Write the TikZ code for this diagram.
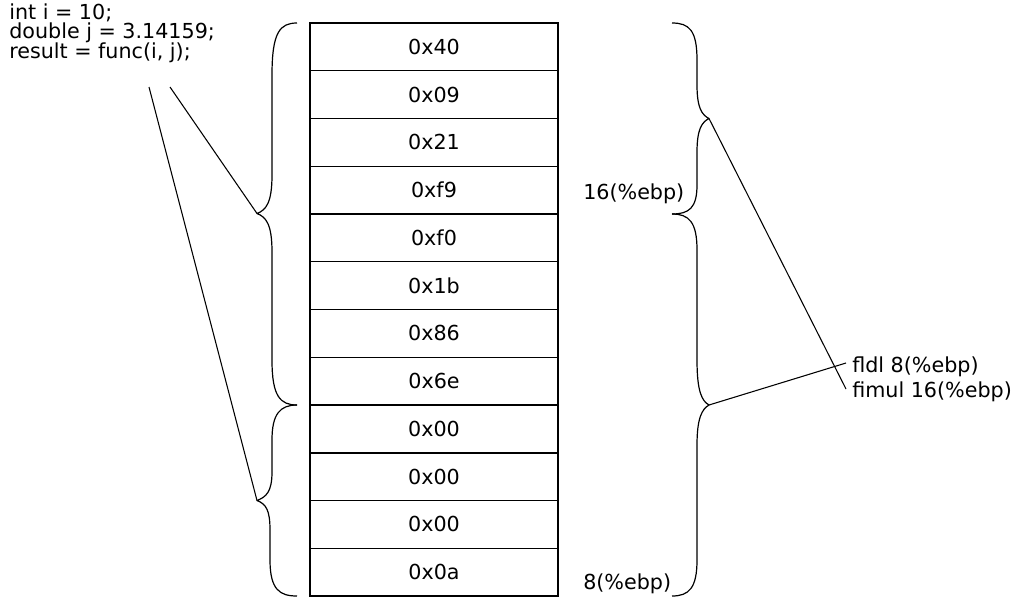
\documentclass[tikz,border=0pt]{standalone}
\usepackage{fontspec}
\setmainfont{DejaVu Sans}
\begin{document}
\begin{tikzpicture}[x=0.75pt,y=-0.75pt,
  cell/.style={draw,line width=1.1pt,minimum width=186pt,minimum height=35.8pt,inner sep=0pt,font=\fontsize{15.5pt}{18pt}\selectfont},
  txt/.style={inner sep=0pt,anchor=base west,font=\fontsize{15.5pt}{18pt}\selectfont},
  brace/.style={line width=0.9pt,line join=round},
  link/.style={line width=0.8pt}]
\useasboundingbox (0,0) rectangle (1013,597);
% stack cells
\foreach \t [count=\k] in {0x40,0x09,0x21,0xf9,0xf0,0x1b,0x86,0x6e,0x00,0x00,0x00,0x0a}
  \node[cell] (c\k) at (434,{23+47.75*(\k-0.5)}) {\t};
% code
\node[txt] (code1) at (9,19) {int i = 10;};
\node[txt] (code2) at (9,38.5) {double j = 3.14159;};
\node[txt] (code3) at (9,58) {result = func(i, j);};
% right labels
\node[txt] (l16) at (583,199) {16(\%ebp)};
\node[txt] (l8) at (583,589) {8(\%ebp)};
\node[txt] (fldl) at (852,372) {fldl 8(\%ebp)};
\node[txt] (fimul) at (852,397) {fimul 16(\%ebp)};
% cusp coordinates
\coordinate (lb1) at (257,213.5);
\coordinate (lb2) at (257,500.5);
\coordinate (rb1) at (709,118.5);
\coordinate (rb2) at (709,405);
\coordinate (ci) at (149,87);
\coordinate (cj) at (170,87);
\coordinate (efldl) at (846,363);
\coordinate (efimul) at (846,389);
% left braces
\draw[brace] (297,23) .. controls (280,23) and (272,32) .. (272,75)
  -- (272,175) .. controls (272,203) and (266,210) .. (lb1)
  .. controls (266,217) and (272,224) .. (272,252)
  -- (272,360) .. controls (272,396) and (280,405) .. (297,405);
\draw[brace] (297,405) .. controls (280,405) and (272,414) .. (272,440)
  -- (272,472) .. controls (272,492) and (266,497) .. (lb2)
  .. controls (266,504) and (270,510) .. (270,530)
  -- (270,560) .. controls (270,590) and (280,596) .. (297,596);
% right braces
\draw[brace] (672,23) .. controls (689,23) and (697,30) .. (697,60)
  -- (697,85) .. controls (697,108) and (702,115) .. (rb1)
  .. controls (702,122) and (697,129) .. (697,152)
  -- (697,185) .. controls (697,208) and (689,214) .. (672,214);
\draw[brace] (672,214) .. controls (689,214) and (697,222) .. (697,250)
  -- (697,360) .. controls (697,392) and (702,401) .. (rb2)
  .. controls (702,409) and (697,418) .. (697,445)
  -- (697,560) .. controls (697,588) and (689,596) .. (672,596);
% connectors
\draw[link] (ci) -- (lb2);
\draw[link] (cj) -- (lb1);
\draw[link] (rb1) -- (efimul);
\draw[link] (rb2) -- (efldl);
\end{tikzpicture}
\end{document}
